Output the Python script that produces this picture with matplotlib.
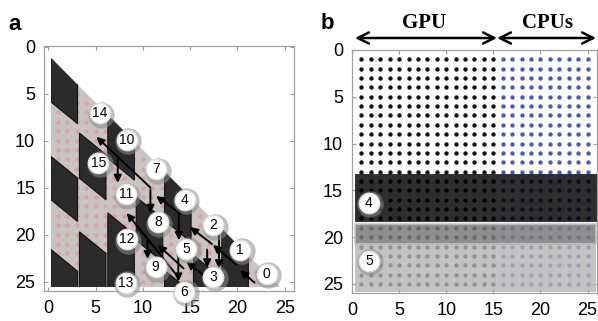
import numpy as np
import matplotlib.pyplot as plt
from matplotlib.patches import Polygon, Rectangle

plt.rcParams['font.family'] = ['Liberation Sans', 'DejaVu Sans']

ticks = [0, 5, 10, 15, 20, 25]

# ---- panel a: tiled lower triangle ----
tri_corners = [(0.25, 1.25), (0.25, 25.55), (24.55, 25.55)]
col_lefts = [0.3, 3.3, 6.3, 9.3, 12.3, 15.35, 18.35]
tile_w = 2.8
skew = 2.3
# (column, top y at left edge, height)
dark_tiles = [(0, 1.25, 4.65), (0, 11.7, 4.6), (0, 21.6, 6.0),
              (1, 9.2, 4.8), (1, 19.7, 7.0),
              (2, 7.2, 4.7), (2, 17.7, 9.0),
              (3, 16.0, 4.6),
              (4, 13.3, 5.2), (4, 23.8, 4.0),
              (5, 22.2, 5.0),
              (6, 19.4, 8.0)]

task_a_ids = ['0', '1', '2', '3', '4', '5', '6', '7', '8', '9',
              '10', '11', '12', '13', '14', '15']
task_a_x = [23.1, 20.3, 17.45, 17.45, 14.45, 14.6, 14.4, 11.4,
            11.6, 11.35, 8.3, 8.2, 8.3, 8.2, 5.47, 5.3]
task_a_y = [24.2, 21.6, 19.0, 24.5, 16.3, 21.5, 26.1, 13.05,
            18.7, 23.5, 9.9, 15.7, 20.5, 25.1, 7.1, 12.35]

# dependency arrows (tail -> head)
diag_arrows = [((21.8, 25.1), (20.3, 23.8)),
               ((19.9, 23.2), (17.4, 21.1)),
               ((17.3, 21.0), (15.0, 19.2)),
               ((16.8, 24.6), (14.6, 22.9)),
               ((14.0, 17.8), (11.4, 15.9)),
               ((10.8, 15.0), (5.1, 9.6)),
               ((13.8, 24.6), (8.3, 17.7)),
               ((14.3, 23.6), (11.6, 21.1))]
down_arrows = [(18.05, 19.5, 23.6), (16.8, 21.6, 23.5), (13.8, 16.8, 20.6),
               (13.75, 22.0, 25.0), (10.8, 15.2, 17.7), (10.5, 20.5, 22.6),
               (7.35, 12.0, 14.5)]

# ---- panel b: work split ----
gpu_cols = np.arange(1, 16)
cpu_cols = np.arange(16, 26)
grid_rows = np.arange(1, 26)
band_dark = (13.3, 18.3)
band_mid = (18.6, 20.75)
band_light = (20.75, 25.9)
task_b_ids = ['4', '5']
task_b_x = [1.8, 1.8]
task_b_y = [16.3, 22.5]


def style_axes(ax):
    ax.set_xticks(ticks)
    ax.set_yticks(ticks)
    ax.tick_params(direction='in', length=3, color='#999999', labelsize=13,
                   top=True, right=True, pad=6.5)
    for s in ax.spines.values():
        s.set_color('#a0a0a0')
        s.set_linewidth(0.9)


def task_circles(ax, xs, ys, labels):
    ax.scatter(np.array(xs) + 0.15, np.array(ys) + 0.15, s=360, color='#8c8c8c',
               alpha=0.55, zorder=8, linewidths=0, clip_on=False)
    ax.scatter(xs, ys, s=215, color='white', edgecolors='#e0e0e0',
               linewidths=1.0, zorder=9, clip_on=False)
    for x, y, t in zip(xs, ys, labels):
        ax.text(x, y, t, ha='center', va='center', fontsize=10, zorder=10,
                clip_on=False)


fig = plt.figure(figsize=(5.98, 3.21), dpi=100)
ax1 = fig.add_axes([0.074, 0.0935, 0.418, 0.7632])
ax2 = fig.add_axes([0.5886, 0.0863, 0.4097, 0.758])

# panel a
tri = Polygon(tri_corners, closed=True, fc='#c9c4c4', ec='none', zorder=1)
ax1.add_patch(tri)
dx, dy = [], []
for i in range(1, 25):
    for j in range(2, 26):
        if j > i + 1.5:
            dx.append(i)
            dy.append(j)
ax1.scatter(dx, dy, s=10, color='#d9a3a3', linewidths=0, zorder=2)
for c, top, h in dark_tiles:
    xl = col_lefts[c]
    xr = xl + tile_w
    p = Polygon([(xl, top), (xr, top + skew), (xr, top + skew + h), (xl, top + h)],
                closed=True, fc='#2b2b2b', ec='#101010', lw=0.8, zorder=3)
    ax1.add_patch(p)
    p.set_clip_path(tri)
for tail, head in diag_arrows:
    ax1.annotate('', xy=head, xytext=tail,
                 arrowprops=dict(arrowstyle='-|>', color='black', lw=1.4,
                                 mutation_scale=11, shrinkA=0, shrinkB=0),
                 zorder=6)
for x, y0, y1 in down_arrows:
    ax1.annotate('', xy=(x, y1), xytext=(x, y0),
                 arrowprops=dict(arrowstyle='-|>', color='black', lw=1.4,
                                 mutation_scale=11, shrinkA=0, shrinkB=0),
                 zorder=6)
task_circles(ax1, task_a_x, task_a_y, task_a_ids)
ax1.set_xlim(-0.42, 26)
ax1.set_ylim(26, -0.06)
style_axes(ax1)

# panel b
gx, gy = np.meshgrid(gpu_cols, grid_rows)
cx, cy = np.meshgrid(cpu_cols, grid_rows)
ax2.scatter(gx.ravel(), gy.ravel(), s=10, color='#111111', linewidths=0, zorder=2)
ax2.scatter(cx.ravel(), cy.ravel(), s=10, color='#4b5bb5', linewidths=0, zorder=2)
ax2.add_patch(Rectangle((0.35, band_dark[0]), 25.55, band_dark[1] - band_dark[0],
                        fc='black', alpha=0.82, ec='#222222', lw=0.8, zorder=3))
ax2.add_patch(Rectangle((0.35, band_mid[0]), 25.55, band_mid[1] - band_mid[0],
                        fc='#7a7a7a', alpha=0.85, ec='#c8c8c8', lw=1.3, zorder=3))
ax2.add_patch(Rectangle((0.35, band_light[0]), 25.55, band_light[1] - band_light[0],
                        fc='#b3b3b3', alpha=0.8, ec='none', zorder=3))
task_circles(ax2, task_b_x, task_b_y, task_b_ids)
ax2.set_xlim(0, 26)
ax2.set_ylim(26, 0)
style_axes(ax2)

# GPU / CPUs split arrows
for x0, x1 in [(355, 497), (497, 596)]:
    ax2.annotate('', xy=(x1, 283), xytext=(x0, 283), xycoords='figure pixels',
                 textcoords='figure pixels', annotation_clip=False,
                 arrowprops=dict(arrowstyle='<->, head_length=0.8, head_width=0.4',
                                 color='black', lw=1.8, shrinkA=0, shrinkB=0))
fig.text(424 / 598, 1 - 28.5 / 321, 'GPU', family='Liberation Serif',
         weight='bold', fontsize=15, ha='center', va='baseline')
fig.text(547.5 / 598, 1 - 28.5 / 321, 'CPUs', family='Liberation Serif',
         weight='bold', fontsize=15, ha='center', va='baseline')

fig.text(8 / 598, 1 - 30 / 321, 'a', weight='bold', fontsize=16, va='baseline')
fig.text(320.5 / 598, 1 - 29.3 / 321, 'b', weight='bold', fontsize=16, va='baseline')

fig.savefig('out.png', dpi=100)
